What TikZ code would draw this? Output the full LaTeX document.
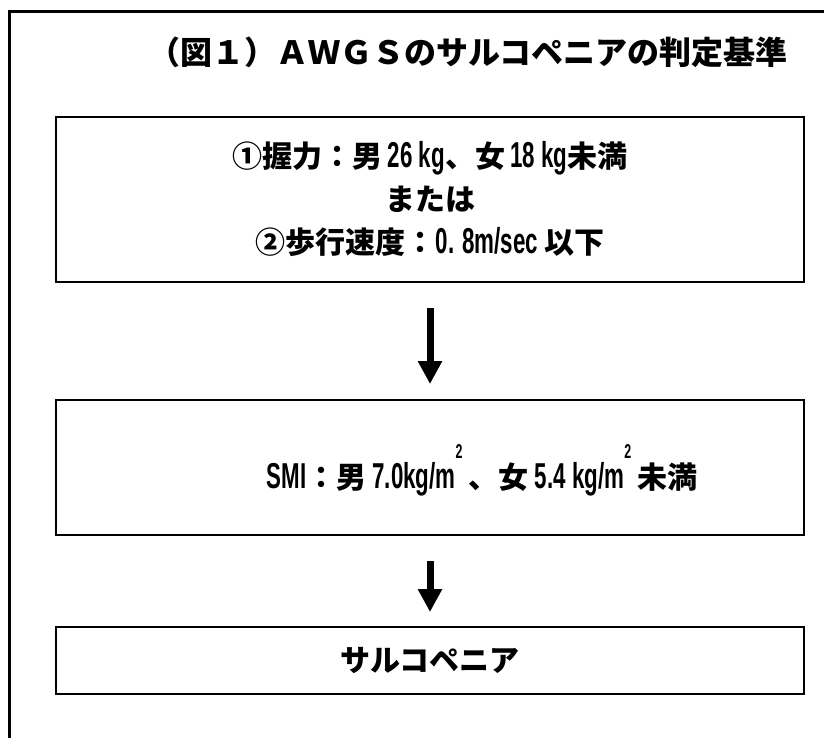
\documentclass[tikz,border=0pt]{standalone}
\usepackage{fontspec}
\setmainfont{Noto Sans CJK JP}
\newfontfamily\lt{Liberation Sans}[FakeStretch=0.62]
\usetikzlibrary{arrows.meta}
\tikzset{
  box/.style={draw, line width=2pt, minimum width=748pt, minimum height=#1, inner sep=0pt, align=center},
  arr/.style={line width=7pt, -{Triangle[width=23pt,length=23pt]}},
  bodyfont/.style={font=\fontsize{30}{43}\selectfont\bfseries},
}
\newcommand{\la}[1]{{\fontsize{36}{43}\selectfont\lt\bfseries #1}}
\newcommand{\sqsup}{\raisebox{30pt}{\fontsize{20}{20}\selectfont\lt\bfseries 2}}
\begin{document}
\begin{tikzpicture}[x=1pt,y=-1pt]
\useasboundingbox (0,0) rectangle (824,738);
\clip (0,0) rectangle (824,738);
\draw[line width=3pt] (9,12) rectangle (830,745);
\node[font=\fontsize{32}{32}\selectfont\bfseries] (title) at (468,52) {（図１）ＡＷＧＳのサルコペニアの判定基準};
\node[box=165pt, bodyfont] (b1) at (430,199.5)
  {①握力：男\,\la{26 kg}、女\,\la{18 kg}未満\\または\\②歩行速度：\la{0. 8m/sec }以下};
\node[box=135pt] (b2) at (430,467.5) {};
\node[bodyfont] (t2) at (482,470)
  {\la{SMI}：男\la{ 7.0kg/m}\sqsup\la{ }、女\la{ 5.4 kg/m}\sqsup\la{ }未満};
\node[box=67pt, bodyfont] (b3) at (430,660.5) {サルコペニア};
\draw[arr] ([yshift=-25pt]b1.south) -- ([yshift=15pt]b2.north);
\draw[arr] ([yshift=-25pt]b2.south) -- ([yshift=14pt]b3.north);
\end{tikzpicture}
\end{document}
